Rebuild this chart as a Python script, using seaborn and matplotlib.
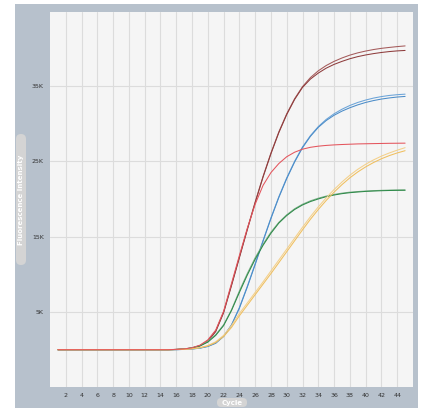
import numpy as np
import pandas as pd
import seaborn as sns
import matplotlib.pyplot as plt
from matplotlib.patches import Rectangle, FancyBboxPatch

# %%

### Cycles 1..45 (amplification curves, values in thousands of RFU)
cycles = list(range(1, 46))
flat = [0.0] * 15  # cycles 1-15 sit on the baseline

brown_a = flat + [0.04, 0.1, 0.25, 0.55, 1.2, 2.5, 5.0, 8.6, 12.3, 16.0, 19.6, 23.0, 26.1, 28.9,
                  31.3, 33.3, 34.9, 36.1, 37.0, 37.7, 38.25, 38.7, 39.08, 39.38, 39.62, 39.82,
                  39.98, 40.1, 40.21, 40.3]
brown_b = flat + [0.03, 0.09, 0.22, 0.5, 1.1, 2.4, 4.9, 8.5, 12.2, 15.9, 19.5, 22.9, 26.0, 28.8,
                  31.2, 33.2, 34.8, 35.9, 36.7, 37.35, 37.85, 38.25, 38.6, 38.88, 39.1, 39.28,
                  39.43, 39.55, 39.64, 39.7]
blue_a = flat + [0.0, 0.04, 0.1, 0.22, 0.45, 0.9, 1.8, 3.3, 5.6, 8.4, 11.4, 14.5, 17.5, 20.3,
                 22.8, 25.0, 26.9, 28.4, 29.6, 30.55, 31.3, 31.9, 32.4, 32.8, 33.12, 33.38,
                 33.58, 33.73, 33.83, 33.9]
blue_b = flat + [0.0, 0.04, 0.09, 0.2, 0.42, 0.85, 1.75, 3.25, 5.5, 8.3, 11.3, 14.4, 17.4, 20.2,
                 22.7, 24.9, 26.8, 28.3, 29.5, 30.4, 31.1, 31.65, 32.1, 32.48, 32.8, 33.05,
                 33.25, 33.4, 33.52, 33.6]
green_a = flat + [0.03, 0.1, 0.25, 0.55, 1.1, 2.0, 3.3, 5.3, 7.8, 10.1, 12.2, 14.0, 15.6, 16.9,
                  17.9, 18.7, 19.3, 19.75, 20.1, 20.38, 20.6, 20.77, 20.9, 20.98, 21.05, 21.1,
                  21.14, 21.17, 21.19, 21.2]
green_b = flat + [0.03, 0.09, 0.22, 0.5, 1.0, 1.9, 3.2, 5.2, 7.6, 9.9, 12.0, 13.85, 15.45, 16.8,
                  17.8, 18.6, 19.2, 19.65, 20.0, 20.3, 20.52, 20.7, 20.83, 20.92, 21.0, 21.05,
                  21.09, 21.12, 21.14, 21.15]
yellow_a = flat + [0.02, 0.05, 0.13, 0.28, 0.55, 1.05, 1.9, 3.2, 4.8, 6.2, 7.6, 9.0, 10.45, 11.9,
                   13.35, 14.8, 16.25, 17.65, 18.95, 20.15, 21.25, 22.25, 23.15, 23.93, 24.6,
                   25.18, 25.68, 26.1, 26.47, 26.8]
yellow_b = flat + [0.02, 0.05, 0.12, 0.25, 0.5, 0.95, 1.75, 2.95, 4.5, 5.9, 7.3, 8.7, 10.1, 11.55,
                   13.0, 14.45, 15.9, 17.3, 18.6, 19.8, 20.9, 21.9, 22.8, 23.58, 24.25, 24.83,
                   25.33, 25.75, 26.1, 26.4]
red = flat + [0.04, 0.1, 0.25, 0.6, 1.3, 2.6, 5.1, 8.8, 12.5, 16.1, 19.3, 21.8, 23.5, 24.7,
              25.6, 26.2, 26.6, 26.85, 27.0, 27.1, 27.17, 27.22, 27.26, 27.3, 27.32, 27.34,
              27.36, 27.38, 27.39, 27.4]

series = {
    "brown_a": brown_a, "brown_b": brown_b,
    "blue_a": blue_a, "blue_b": blue_b,
    "green_a": green_a, "green_b": green_b,
    "yellow_a": yellow_a, "yellow_b": yellow_b,
    "red": red,
}
palette = {
    "brown_a": "#a45a5a", "brown_b": "#8e3c3c",
    "blue_a": "#6aa3d8", "blue_b": "#4b8cc8",
    "green_a": "#7fb08a", "green_b": "#2f8a4a",
    "yellow_a": "#f4d08a", "yellow_b": "#f0bf5e",
    "red": "#e4545c",
}

ytick_vals = [5000, 15000, 25000, 35000]
ytick_labels = ["5K", "15K", "25K", "35K"]
xtick_vals = list(range(2, 46, 2))

rows = []
for name, vals in series.items():
    for c, v in zip(cycles, vals):
        rows.append((name, c, v * 1000))
df = pd.DataFrame(rows, columns=["well", "cycle", "rfu"])

# %%

sns.set_style("white")
fig = plt.figure(figsize=(4.22, 4.08), dpi=100)
fig.patch.set_facecolor("white")

### blue-grey panel behind the plot
fig.patches.append(Rectangle((15 / 422, 0), 403 / 422, 404 / 408,
                             transform=fig.transFigure, facecolor="#b7c1cc",
                             edgecolor="none", zorder=-2))

ax = fig.add_axes([50 / 422, 21 / 408, 363 / 422, 375 / 408])
ax.set_zorder(3)
ax.set_facecolor("#f5f5f5")

sns.lineplot(data=df, x="cycle", y="rfu", hue="well", palette=palette,
             legend=False, linewidth=0.75, ax=ax)

ax.set_xlim(0, 46)
ax.set_ylim(-4950, 44800)
ax.set_xticks(xtick_vals)
ax.set_xticklabels([str(x) for x in xtick_vals])
ax.set_yticks(ytick_vals)
ax.set_yticklabels(ytick_labels)
ax.grid(True, color="#dcdcdc", linewidth=0.8)
ax.set_axisbelow(True)
for s in ax.spines.values():
    s.set_visible(False)
ax.tick_params(axis="both", labelsize=4.5, colors="#333333", length=2.5, width=0.6, pad=2)
ax.set_xlabel("")
ax.set_ylabel("")

### axis title "pills"
fig.patches.append(FancyBboxPatch((16 / 422, 143 / 408), 10 / 422, 131 / 408,
                                  boxstyle="round,pad=0,rounding_size=0.012",
                                  transform=fig.transFigure, facecolor="#d4d4d4",
                                  edgecolor="none", zorder=-1))
fig.text(21 / 422, 1 - 199.5 / 408, "Fluorescence Intensity", rotation=90,
         ha="center", va="center", color="white", fontsize=5, fontweight="bold")
fig.patches.append(FancyBboxPatch((217 / 422, 1 / 408), 30 / 422, 9 / 408,
                                  boxstyle="round,pad=0,rounding_size=0.01",
                                  transform=fig.transFigure, facecolor="#d4d4d4",
                                  edgecolor="none", zorder=-1))
fig.text(232 / 422, 1 - 402.5 / 408, "Cycle", ha="center", va="center",
         color="white", fontsize=5, fontweight="bold")

fig.savefig("out.png", dpi=100)
